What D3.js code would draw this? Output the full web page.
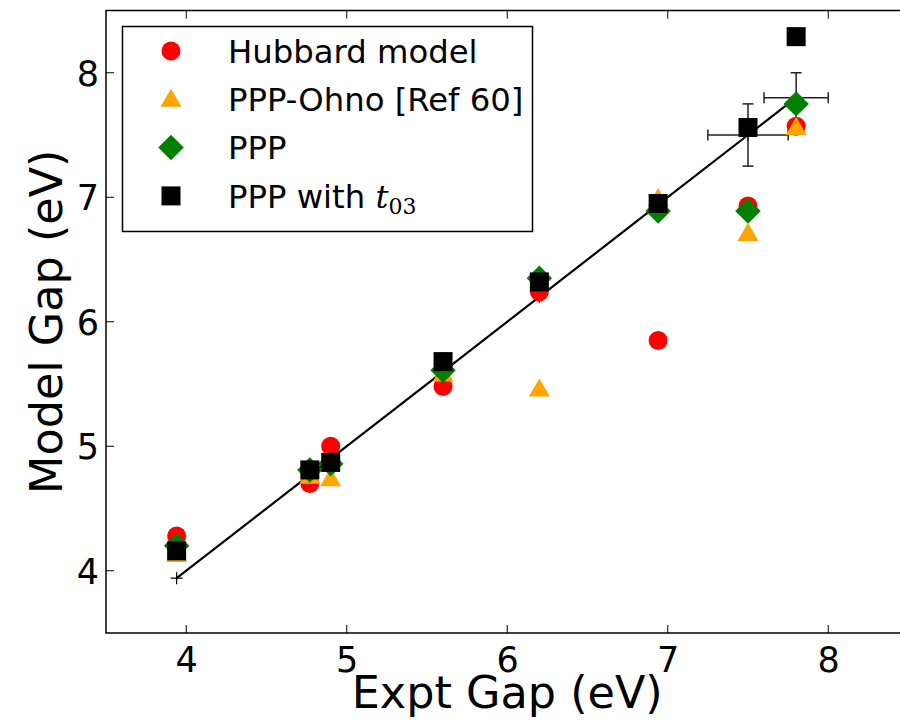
<!DOCTYPE html>
<html><head><meta charset="utf-8">
<script src="https://cdn.jsdelivr.net/npm/d3@7"></script>
<style>body{margin:0;background:#fff}svg{display:block}</style>
</head><body>
<svg id="chart" width="900" height="721"></svg>
<script>
// ---- data ----
const exptGap = [3.94, 4.77, 4.90, 5.60, 6.20, 6.94, 7.50, 7.80];
const exptErr = [0, 0, 0, 0, 0, 0, 0.25, 0.20];
const hubbard = [4.28, 4.70, 5.00, 5.48, 6.24, 5.85, 6.93, 7.57];
const pppOhno = [4.13, 4.76, 4.74, 5.58, 5.46, 6.99, 6.71, 7.56];
const ppp     = [4.20, 4.81, 4.86, 5.61, 6.35, 6.89, 6.89, 7.75];
const pppT03  = [4.16, 4.81, 4.87, 5.68, 6.32, 6.95, 7.56, 8.29];
const xTicks = [4, 5, 6, 7, 8];
const yTicks = [4, 5, 6, 7, 8];
const seriesNames = ["Hubbard model", "PPP-Ohno [Ref 60]", "PPP", "PPP with t03"];

const svg = d3.select("#chart");
const L = 106, R = 908.5, T = 10.5, B = 633;
const x = d3.scaleLinear().domain([3.5, 8.5]).range([L, R]);
const y = d3.scaleLinear().domain([3.5, 8.5]).range([B, T]);
const FONT = "'DejaVu Sans', sans-serif";

const symCircle = d3.symbol().type(d3.symbolCircle).size(Math.PI * 9.5 * 9.5);
const symTri = d3.symbol().type(d3.symbolTriangle).size(190);
const symSquare = d3.symbol().type(d3.symbolSquare).size(19 * 19);
const symDiamond = d3.symbol().type(d3.symbolSquare).size(18 * 18);

const series = [
  {vals: hubbard, color: "#ff0000", draw: (g) => g.append("path").attr("d", symCircle())},
  {vals: pppOhno, color: "#ffa500", draw: (g) => g.append("path").attr("d", symTri()).attr("transform", "translate(0,1.5)")},
  {vals: ppp, color: "#008000", draw: (g) => g.append("path").attr("d", symDiamond()).attr("transform", "rotate(45)")},
  {vals: pppT03, color: "#000000", draw: (g) => g.append("path").attr("d", symSquare())}
];

// axes (inside ticks on all sides)
const axB = d3.axisBottom(x).tickValues(xTicks).tickSize(0).tickPadding(14).tickFormat(d3.format("d"));
const axL = d3.axisLeft(y).tickValues(yTicks).tickSize(0).tickPadding(7).tickFormat(d3.format("d"));
const gB = svg.append("g").attr("transform", `translate(0,${B})`).call(axB);
const gL = svg.append("g").attr("transform", `translate(${L},0)`).call(axL);
[gB, gL].forEach(g => {
  g.select(".domain").remove();
  g.selectAll("text").attr("font-family", FONT).attr("font-size", 35).attr("fill", "#000");
});
gL.selectAll("text").attr("dy", "0.36em");
gB.selectAll("text").attr("dy", "0.72em");

const tickG = svg.append("g").attr("stroke", "#000").attr("stroke-width", 1);
xTicks.forEach(t => {
  tickG.append("line").attr("x1", x(t)).attr("x2", x(t)).attr("y1", B).attr("y2", B - 8);
  tickG.append("line").attr("x1", x(t)).attr("x2", x(t)).attr("y1", T).attr("y2", T + 8);
});
yTicks.forEach(t => {
  tickG.append("line").attr("x1", L).attr("x2", L + 8).attr("y1", y(t)).attr("y2", y(t));
  tickG.append("line").attr("x1", R).attr("x2", R - 8).attr("y1", y(t)).attr("y2", y(t));
});

// frame
svg.append("rect").attr("x", L).attr("y", T).attr("width", R - L).attr("height", B - T)
  .attr("fill", "none").attr("stroke", "#000").attr("stroke-width", 1.5);

// y = x reference line through experimental values
const line = d3.line().x(d => x(d)).y(d => y(d));
svg.append("path").datum(exptGap).attr("d", line)
  .attr("fill", "none").attr("stroke", "#000").attr("stroke-width", 2.2);
// plus markers
svg.append("g").selectAll("path").data(exptGap).join("path")
  .attr("d", d => `M${x(d)-6},${y(d)}H${x(d)+6}M${x(d)},${y(d)-6}V${y(d)+6}`)
  .attr("stroke", "#000").attr("stroke-width", 1.2);

// error bars
const eb = svg.append("g").attr("stroke", "#222").attr("stroke-width", 1.5).attr("fill", "none");
exptGap.forEach((v, i) => {
  const e = exptErr[i];
  if (!e) return;
  const cx = x(v), cy = y(v), cap = 5.5;
  eb.append("line").attr("x1", x(v - e)).attr("x2", x(v + e)).attr("y1", cy).attr("y2", cy);
  eb.append("line").attr("x1", cx).attr("x2", cx).attr("y1", y(v - e)).attr("y2", y(v + e));
  eb.append("line").attr("x1", x(v - e)).attr("x2", x(v - e)).attr("y1", cy - cap).attr("y2", cy + cap);
  eb.append("line").attr("x1", x(v + e)).attr("x2", x(v + e)).attr("y1", cy - cap).attr("y2", cy + cap);
  eb.append("line").attr("x1", cx - cap).attr("x2", cx + cap).attr("y1", y(v - e)).attr("y2", y(v - e));
  eb.append("line").attr("x1", cx - cap).attr("x2", cx + cap).attr("y1", y(v + e)).attr("y2", y(v + e));
});

// markers
series.forEach(s => {
  const g = svg.append("g").attr("fill", s.color);
  s.vals.forEach((v, i) => {
    const mg = g.append("g").attr("transform", `translate(${x(exptGap[i])},${y(v)})`);
    s.draw(mg);
  });
});

// legend
const lg = svg.append("g");
lg.append("rect").attr("x", 122.5).attr("y", 26.5).attr("width", 410).attr("height", 205)
  .attr("fill", "#fff").attr("stroke", "#000").attr("stroke-width", 1.5);
series.forEach((s, i) => {
  const yy = 51 + i * 48.3;
  const mg = lg.append("g").attr("fill", s.color).attr("transform", `translate(171,${yy})`);
  s.draw(mg);
  const t = lg.append("text").attr("x", 228).attr("y", yy).attr("dy", "0.36em")
    .attr("font-family", FONT).attr("font-size", 32.3).attr("fill", "#000");
  if (i === 3) {
    t.append("tspan").text("PPP with ");
    t.append("tspan").text("t").attr("font-family", "'DejaVu Serif', serif").attr("font-style", "italic");
    t.append("tspan").text("03").attr("font-family", "'DejaVu Serif', serif")
      .attr("font-size", 22).attr("dy", "0.3em");
  } else {
    t.text(seriesNames[i]);
  }
});

// axis labels
svg.append("text").attr("x", (L + R) / 2).attr("y", 708).attr("text-anchor", "middle")
  .attr("font-family", FONT).attr("font-size", 44.5).attr("fill", "#000").text("Expt Gap (eV)");
svg.append("text").attr("transform", `translate(62,${(T + B) / 2}) rotate(-90)`).attr("text-anchor", "middle")
  .attr("font-family", FONT).attr("font-size", 44.5).attr("fill", "#000").text("Model Gap (eV)");
</script>
</body></html>
